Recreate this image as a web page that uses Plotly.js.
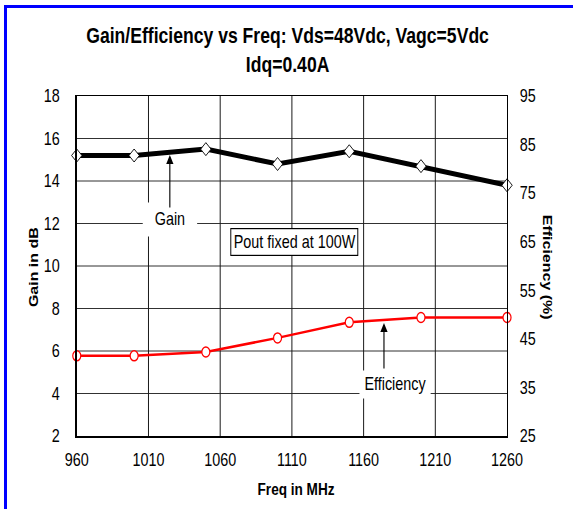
<!DOCTYPE html>
<html>
<head>
<meta charset="utf-8">
<script src="https://cdn.plot.ly/plotly-3.0.1.min.js"></script>
<style>
  html, body { margin: 0; padding: 0; background: #fff; }
  #wrap { position: relative; width: 575px; height: 509px; overflow: hidden; }
  /* the reference uses a narrow (Arial Narrow-like) face; emulate it by a horizontal squeeze */
  #chart { position: absolute; left: 0; top: 0; width: 719px; height: 509px;
           transform: scaleX(0.79972); transform-origin: 0 0; }
  #frame { position: absolute; left: 4px; top: 5px; right: 2px; bottom: -10px;
           border-left: 3px solid #0000ff; border-top: 3px solid #0000ff; pointer-events: none; }
</style>
</head>
<body>
<div id="wrap">
  <div id="chart"></div>
  <div id="frame"></div>
</div>
<script>
// ---- data ----
const freqMHz = [960, 1000, 1050, 1100, 1150, 1200, 1260];
const gainDb = [15.2, 15.2, 15.5, 14.8, 15.4, 14.7, 13.8];
const efficiencyPct = [41.5, 41.5, 42.3, 45.2, 48.4, 49.4, 49.4];
const xTicks = [960, 1010, 1060, 1110, 1160, 1210, 1260];
const gainTicks = [2, 4, 6, 8, 10, 12, 14, 16, 18];
const effTicks = [25, 35, 45, 55, 65, 75, 85, 95];

const FONT = "'Liberation Sans', Arial, sans-serif";

const traces = [
  {
    x: freqMHz, y: gainDb, type: 'scatter', mode: 'lines+markers', name: 'Gain',
    line: {color: '#000000', width: 5},
    marker: {symbol: 'diamond', size: 10, color: '#ffffff', line: {color: '#000000', width: 1}},
    yaxis: 'y', cliponaxis: false
  },
  {
    x: freqMHz, y: efficiencyPct, type: 'scatter', mode: 'lines+markers', name: 'Efficiency',
    line: {color: '#ff0000', width: 2.5},
    marker: {symbol: 'circle', size: 10, color: '#ffffff', line: {color: '#ff0000', width: 1.5}},
    yaxis: 'y2', cliponaxis: false
  }
];

const layout = {
  width: 719, height: 509,
  margin: {l: 96, r: 85, t: 96, b: 73, pad: 0},
  paper_bgcolor: '#ffffff', plot_bgcolor: '#ffffff',
  showlegend: false,
  font: {family: FONT, color: '#000000', size: 16},
  title: {
    text: '<b>Gain/Efficiency vs Freq: Vds=48Vdc, Vagc=5Vdc<br>Idq=0.40A</b>',
    font: {family: FONT, size: 22, color: '#000000'},
    x: 0.49, xanchor: 'center', xref: 'paper',
    y: 1 - 43 / 509, yanchor: 'top', yref: 'container'
  },
  xaxis: {
    range: [960, 1260], tickmode: 'array', tickvals: xTicks,
    ticktext: xTicks.map(String),
    showgrid: true, gridcolor: '#1a1a1a', gridwidth: 1.25,
    showline: true, linecolor: '#000000', linewidth: 1.5, mirror: true,
    ticks: '', ticklabelstandoff: 7, zeroline: false,
    tickfont: {family: FONT, size: 18, color: '#000000'}
  },
  yaxis: {
    range: [2, 18], tickmode: 'array', tickvals: gainTicks,
    showgrid: true, gridcolor: '#1a1a1a', gridwidth: 1,
    showline: true, linecolor: '#000000', linewidth: 1.8, mirror: true,
    ticks: '', ticklabelstandoff: 16, zeroline: false,
    tickfont: {family: FONT, size: 18, color: '#000000'}
  },
  yaxis2: {
    range: [25, 95], tickmode: 'array', tickvals: effTicks,
    overlaying: 'y', side: 'right', showgrid: false, zeroline: false,
    showline: false, ticks: '', ticklabelstandoff: 15,
    tickfont: {family: FONT, size: 18, color: '#000000'}
  },
  annotations: [
    {xref: 'paper', yref: 'paper', x: -0.102, y: 0.497, xanchor: 'center', yanchor: 'middle',
     text: '<b>Gain in dB</b>', textangle: -90,
     showarrow: false, font: {family: FONT, size: 16, color: '#000000'}},
    {xref: 'paper', yref: 'paper', x: 1.0953, y: 0.497, xanchor: 'center', yanchor: 'middle',
     text: '<b>Efficiency (%)</b>', textangle: 90,
     showarrow: false, font: {family: FONT, size: 16, color: '#000000'}},
    {xref: 'paper', yref: 'paper', x: 0.51, y: -0.158, xanchor: 'center', yanchor: 'middle',
     text: '<b>Freq in MHz</b>',
     showarrow: false, font: {family: FONT, size: 17, color: '#000000'}},
    // Gain label + arrow
    {xref: 'paper', yref: 'paper', x: 0.2163, y: 0.6353, xanchor: 'center', yanchor: 'middle',
     text: 'Gain', showarrow: false,
     bgcolor: '#ffffff', width: 67, height: 33, borderpad: 0,
     font: {family: FONT, size: 18, color: '#000000'}},
    {xref: 'paper', yref: 'paper', x: 0.2163, y: 0.8265, text: '', showarrow: true,
     ax: 0, ay: 54, arrowhead: 2, arrowsize: 1.3, arrowwidth: 1.4, arrowcolor: '#000000', standoff: 0},
    // Pout box
    {xref: 'paper', yref: 'paper', x: 0.5047, y: 0.5706, xanchor: 'center', yanchor: 'middle',
     text: 'Pout fixed at 100W', showarrow: false,
     bgcolor: '#ffffff', bordercolor: '#000000', borderwidth: 1.2, borderpad: 3,
     font: {family: FONT, size: 18, color: '#000000'}},
    // Efficiency label + arrow
    {xref: 'paper', yref: 'paper', x: 0.7395, y: 0.1529, xanchor: 'center', yanchor: 'middle',
     text: 'Efficiency', showarrow: false,
     bgcolor: '#ffffff', width: 88, height: 27, borderpad: 0,
     font: {family: FONT, size: 18, color: '#000000'}},
    {xref: 'paper', yref: 'paper', x: 0.714, y: 0.3324, text: '', showarrow: true,
     ax: 0, ay: 47, arrowhead: 2, arrowsize: 1.3, arrowwidth: 1.4, arrowcolor: '#000000', standoff: 0}
  ]
};

Plotly.newPlot('chart', traces, layout, {staticPlot: true, displayModeBar: false});
</script>
</body>
</html>
